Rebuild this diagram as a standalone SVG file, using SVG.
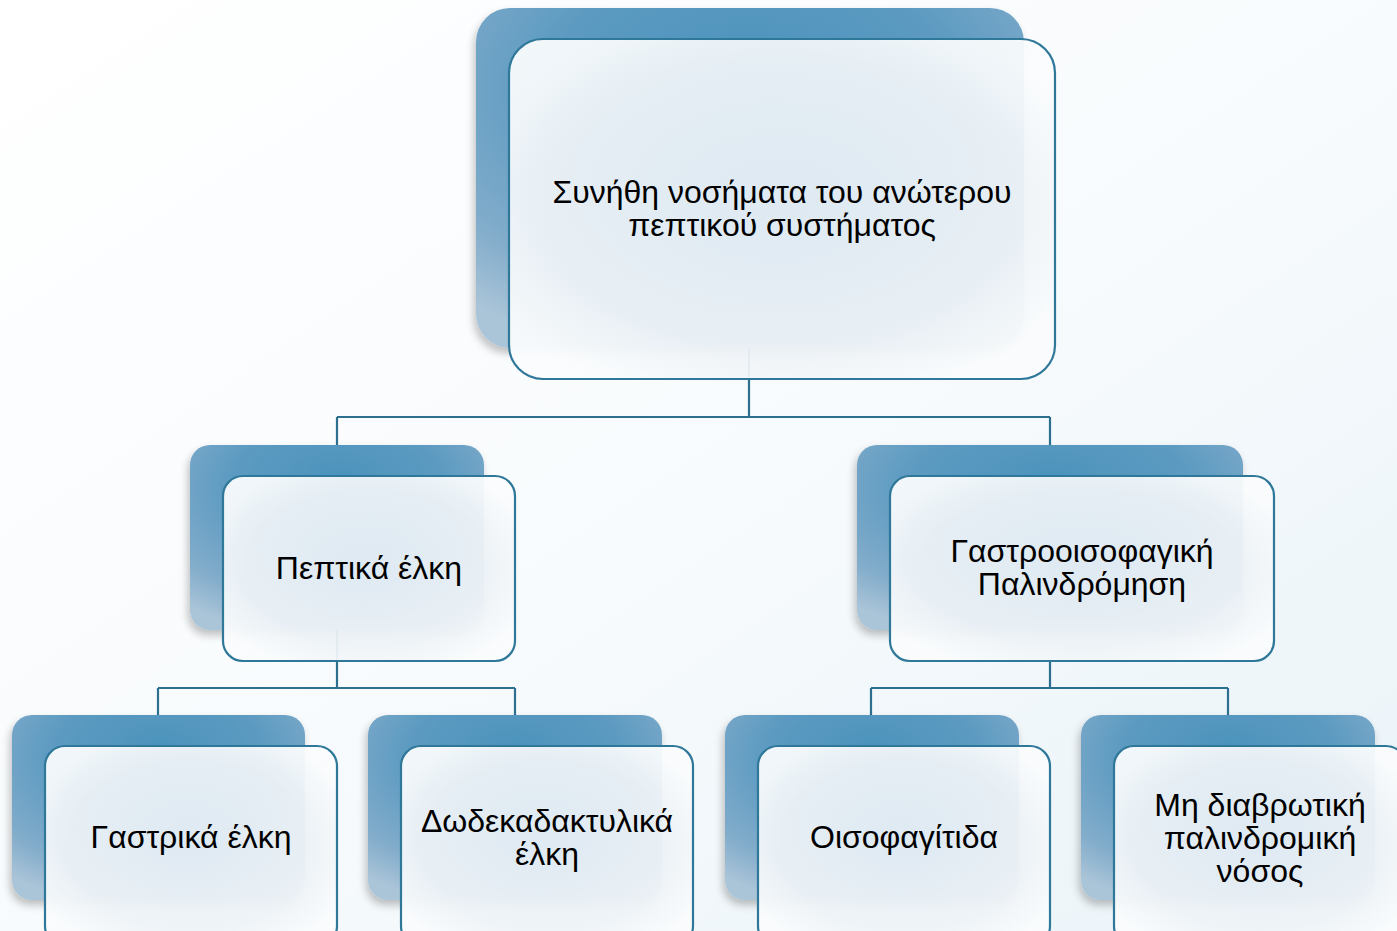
<svg xmlns="http://www.w3.org/2000/svg" width="1397" height="931" viewBox="0 0 1397 931">
<defs>
<linearGradient id="bg" x1="0" y1="0" x2="1" y2="1">
<stop offset="0" stop-color="#ffffff"/>
<stop offset="0.5" stop-color="#f8fbfd"/>
<stop offset="1" stop-color="#e9f3f8"/>
</linearGradient>
<radialGradient id="sh" cx="0.5" cy="0.25" r="0.8" fx="0.5" fy="0.2">
<stop offset="0" stop-color="#4b93bb"/>
<stop offset="0.45" stop-color="#5c9ac1"/>
<stop offset="0.8" stop-color="#83adcb"/>
<stop offset="1" stop-color="#aac4d8"/>
</radialGradient>
<radialGradient id="fr" cx="0.5" cy="0.5" r="0.6">
<stop offset="0" stop-color="#e6eef5"/>
<stop offset="0.7" stop-color="#eef3f7"/>
<stop offset="1" stop-color="#fafcfd"/>
</radialGradient>
<filter id="ds" x="-10%" y="-10%" width="125%" height="130%">
<feGaussianBlur in="SourceAlpha" stdDeviation="4"/>
<feOffset dx="-2" dy="5"/>
<feComponentTransfer><feFuncA type="linear" slope="0.25"/></feComponentTransfer>
<feMerge><feMergeNode/><feMergeNode in="SourceGraphic"/></feMerge>
</filter>
</defs>
<style>
.shadow{fill:url(#sh);filter:url(#ds);}
.front{fill:url(#fr);fill-opacity:0.94;stroke:#2f7899;stroke-width:2.2;}
.conn{fill:none;stroke:#2c6f8f;stroke-width:2.2;}
.lbl{font-family:"Liberation Sans",Arial,sans-serif;font-size:32px;fill:#000;text-anchor:middle;}
</style>
<rect x="0" y="0" width="1397" height="931" fill="url(#bg)"/>
<g id="connectors">
<path class="conn" d="M749,348 V417 M337,417 H1050 M337,417 V445 M1050,417 V445"/>
<path class="conn" d="M337,630 V688 M158,688 H515 M158,688 V715 M515,688 V715"/>
<path class="conn" d="M1050,661 V688 M871,688 H1228 M871,688 V715 M1228,688 V715"/>
</g>
<g id="node-root">
<rect class="shadow" x="476" y="8" width="548" height="340" rx="34"/>
<rect class="front" x="509" y="39" width="546" height="340" rx="34"/>
<text class="lbl" x="782" y="203">Συνήθη νοσήματα του ανώτερου</text>
<text class="lbl" x="782" y="236">πεπτικού συστήματος</text>
</g>
<g id="node-peptika">
<rect class="shadow" x="190" y="445" width="294" height="185" rx="20"/>
<rect class="front" x="223" y="476" width="292" height="185" rx="20"/>
<text class="lbl" x="369" y="579">Πεπτικά έλκη</text>
</g>
<g id="node-gastro">
<rect class="shadow" x="857" y="445" width="386" height="185" rx="20"/>
<rect class="front" x="890" y="476" width="384" height="185" rx="20"/>
<text class="lbl" x="1082" y="562">Γαστροοισοφαγική</text>
<text class="lbl" x="1082" y="595">Παλινδρόμηση</text>
</g>
<g id="node-gastrika">
<rect class="shadow" x="12" y="715" width="293" height="185" rx="20"/>
<rect class="front" x="45" y="746" width="292" height="200" rx="20"/>
<text class="lbl" x="191" y="848">Γαστρικά έλκη</text>
</g>
<g id="node-dodeka">
<rect class="shadow" x="368" y="715" width="294" height="185" rx="20"/>
<rect class="front" x="401" y="746" width="292" height="200" rx="20"/>
<text class="lbl" x="547" y="832">Δωδεκαδακτυλικά</text>
<text class="lbl" x="547" y="865">έλκη</text>
</g>
<g id="node-oisofag">
<rect class="shadow" x="725" y="715" width="294" height="185" rx="20"/>
<rect class="front" x="758" y="746" width="292" height="200" rx="20"/>
<text class="lbl" x="904" y="848">Οισοφαγίτιδα</text>
</g>
<g id="node-mh">
<rect class="shadow" x="1081" y="715" width="294" height="185" rx="20"/>
<rect class="front" x="1114" y="746" width="292" height="200" rx="20"/>
<text class="lbl" x="1260" y="816">Μη διαβρωτική</text>
<text class="lbl" x="1260" y="849">παλινδρομική</text>
<text class="lbl" x="1260" y="882">νόσος</text>
</g>
</svg>
